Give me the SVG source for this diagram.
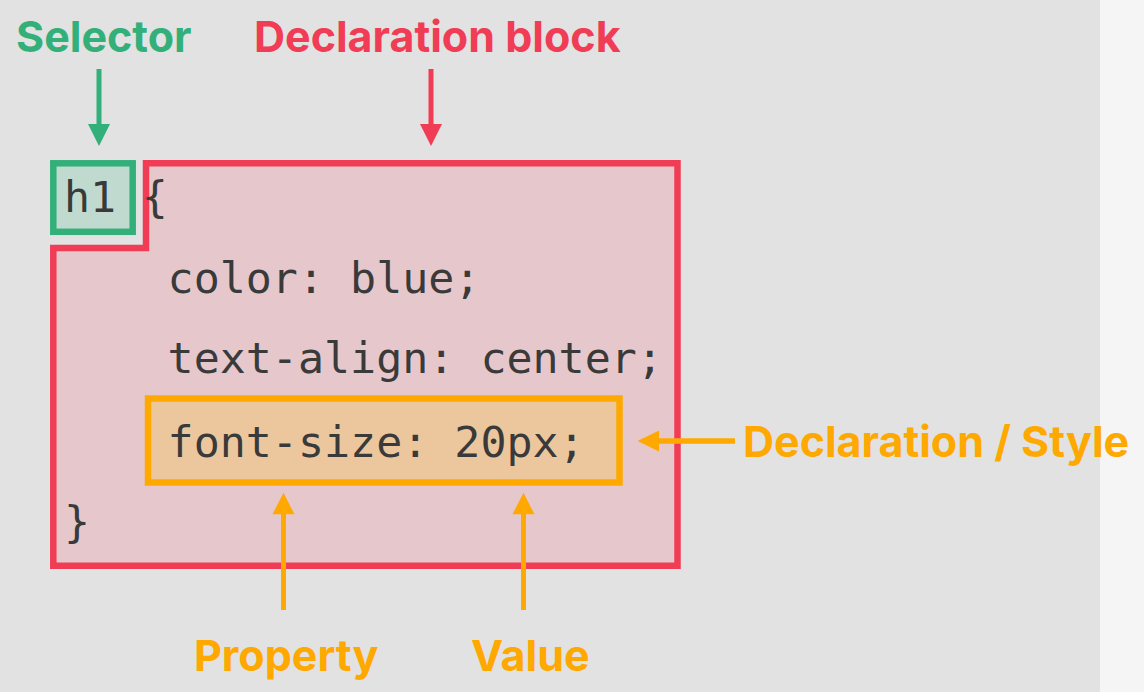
<svg xmlns="http://www.w3.org/2000/svg" width="1144" height="692" viewBox="0 0 1144 692">
  <style>
    .code { font-family: "DejaVu Sans Mono", "Liberation Mono", monospace; font-size: 43.3px; fill: #3a3a3a; }
    .label { font-family: Inter, "Liberation Sans", sans-serif; font-weight: 700; font-size: 43px; }
    .green { fill: #33b07a; }
    .red { fill: #f03c55; }
    .orange { fill: #ffa800; }
  </style>
  <rect x="0" y="0" width="1144" height="692" fill="#f5f5f5"/>
  <rect x="0" y="0" width="1100" height="692" fill="#e2e2e2"/>

  <g id="declaration-block">
    <path d="M53.3,248 H146 V163.3 H677.5 V565.7 H53.3 Z" fill="#e6c8cc" stroke="#f03c55" stroke-width="6.5"/>
    <text class="code" x="141.7" y="212">{</text>
    <text class="code" x="167.6" y="293">color: blue;</text>
    <text class="code" x="167.6" y="373">text-align: center;</text>
    <text class="code" x="64" y="537">}</text>
  </g>

  <g id="selector">
    <rect x="53.3" y="163.3" width="79.4" height="68.5" fill="#c0dacf" stroke="#33b07a" stroke-width="6.5"/>
    <text class="code" x="64" y="212">h1</text>
  </g>

  <g id="declaration">
    <rect x="148" y="398.5" width="471.5" height="84" fill="#ecc79e" stroke="#ffa800" stroke-width="6.5"/>
    <text class="code" x="167.6" y="456.5">font-size: 20px;</text>
  </g>

  <g id="labels">
    <text class="label green" x="16" y="52">Selector</text>
    <text class="label red" x="254" y="52">Declaration block</text>
    <text class="label orange" x="743" y="457">Declaration / Style</text>
    <text class="label orange" x="194" y="671">Property</text>
    <text class="label orange" x="471" y="671">Value</text>
  </g>

  <g id="connectors">
    <line x1="99" y1="69" x2="99" y2="126" stroke="#33b07a" stroke-width="5"/>
    <polygon points="88,124 110,124 99,146" fill="#33b07a"/>
    <line x1="431" y1="69" x2="431" y2="126" stroke="#f03c55" stroke-width="5"/>
    <polygon points="420,124 442,124 431,146" fill="#f03c55"/>
    <line x1="735" y1="441" x2="657" y2="441" stroke="#ffa800" stroke-width="5.5"/>
    <polygon points="659,430.5 659,451.5 637.6,441" fill="#ffa800"/>
    <line x1="283.5" y1="610" x2="283.5" y2="512" stroke="#ffa800" stroke-width="5"/>
    <polygon points="272.5,514.3 294.5,514.3 283.5,492.7" fill="#ffa800"/>
    <line x1="523.5" y1="610" x2="523.5" y2="512" stroke="#ffa800" stroke-width="5"/>
    <polygon points="512.5,514.3 534.5,514.3 523.5,492.7" fill="#ffa800"/>
  </g>
</svg>
